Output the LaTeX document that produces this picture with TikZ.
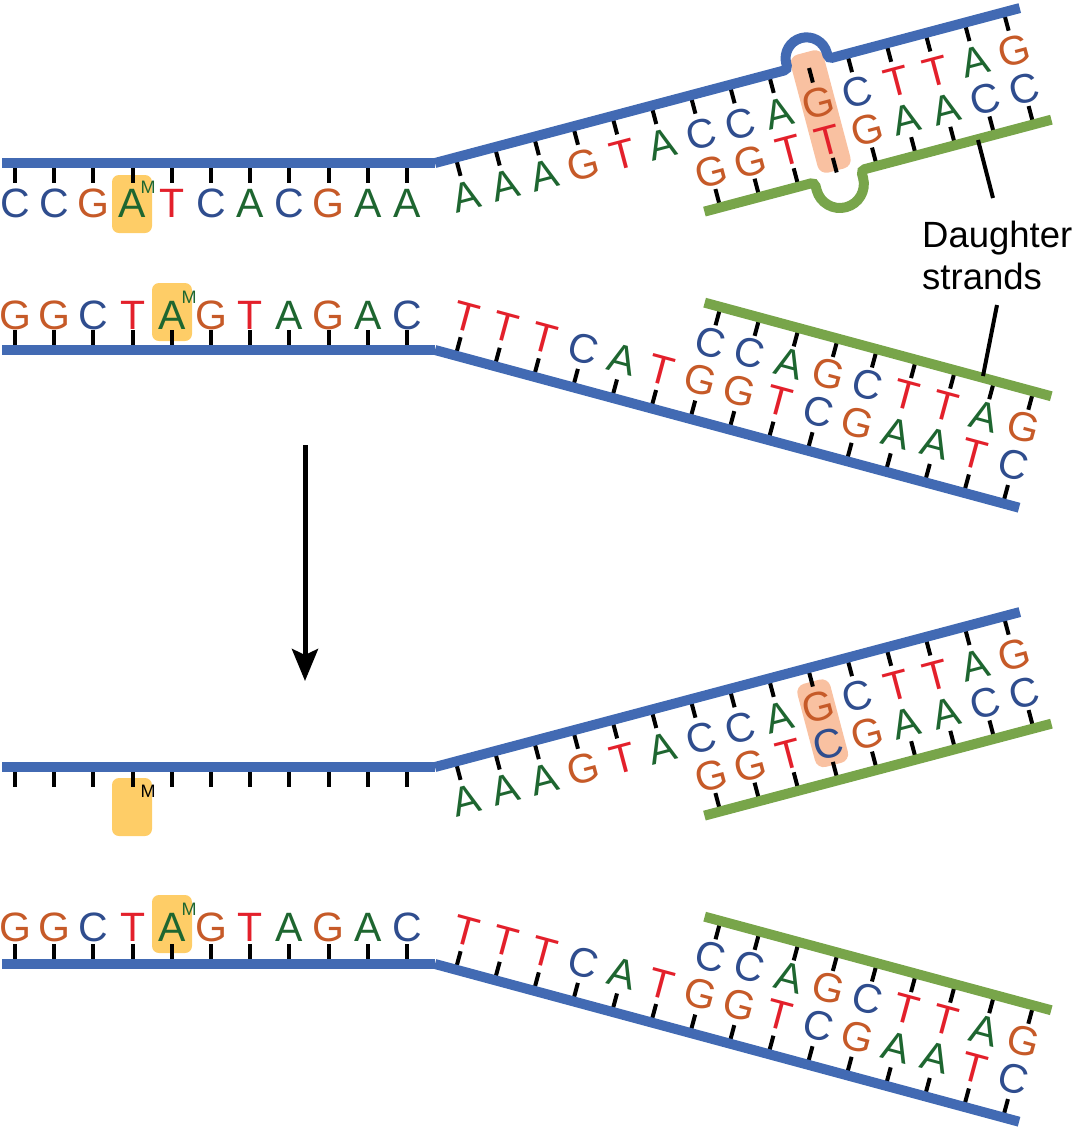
\documentclass[tikz,border=0pt]{standalone}
\usepackage{fontspec}
\setmainfont{Liberation Sans}
\usetikzlibrary{arrows.meta}
\definecolor{strandblue}{HTML}{426AB3}
\definecolor{strandgreen}{HTML}{78A54A}
\definecolor{colA}{HTML}{1E6630}
\definecolor{colC}{HTML}{2F4D8E}
\definecolor{colG}{HTML}{C65A28}
\definecolor{colT}{HTML}{E3202B}
\definecolor{methyl}{HTML}{FECD67}
\definecolor{mismatch}{HTML}{F9C1A1}
\tikzset{
  base/.style={text=col#1, inner sep=0pt, font=\fontsize{41}{41}\selectfont, anchor=center},
  mlabel/.style={inner sep=0pt, font=\fontsize{18}{18}\selectfont, anchor=center},
  tickline/.style={line width=4pt},
  bluestrand/.style={draw=strandblue, line width=10pt},
  greenstrand/.style={draw=strandgreen, line width=10pt},
  methylbox/.style={fill=methyl, rounded corners=7pt},
  mismatchbox/.style={fill=mismatch, rounded corners=9pt},
  pointer/.style={line width=4pt}
}
\begin{document}
\begin{tikzpicture}[x=1pt,y=-1pt]
\useasboundingbox (0,0) rectangle (1077,1128);

% ================= TOP HALF =================
\fill[methylbox] (112,175) rectangle (152,233);
\foreach \l [count=\i from 0] in {C,C,G,A,T,C,A,C,G,A,A}{
  \draw[tickline] ({15+39.2*\i},168) -- ++(0,15);
  \node[base=\l] (ta\i) at ({15+39.2*\i},203) {\l};
}
\node[mlabel, text=colA] (tm1) at (148,187) {M};
\coordinate (ul1) at (2,163);
\coordinate (ur1) at (435,163);
\draw[bluestrand] (ul1) -- (ur1);
\begin{scope}[shift={(435,163)}, rotate=14.84, transform shape]
  \fill[mismatchbox] (369,-12) rectangle (403,110);
  \foreach \l [count=\i from 0] in {A,A,A,G,T,A,C,C,A,G,C,T,T,A,G}{
    \draw[tickline] ({21.4+40.5*\i},4) -- ++(0,15);
    \node[base=\l] (tb\i) at ({21.4+40.5*\i},40) {\l};
  }
  \foreach \l [count=\i from 6] in {G,G,T,T,G,A,A,C,C}{
    \draw[tickline] ({21.4+40.5*\i},112) -- ++(0,-15);
    \node[base=\l] (tc\i) at ({21.4+40.5*\i},79) {\l};
  }
  \coordinate (us1) at (0,0);
  \coordinate (ue1) at (605,0);
  \draw[bluestrand] (us1) -- (361,0) arc[start angle=90, end angle=0, radius=4] -- (365,-6)
     arc[start angle=180, end angle=360, radius=21] -- (407,-4) arc[start angle=180, end angle=90, radius=4] -- (ue1);
  \coordinate (gs1) at (248,116);
  \coordinate (ge1) at (607,116);
  \draw[greenstrand] (gs1) -- (358,116) arc[start angle=270, end angle=360, radius=4] -- (362,124)
     arc[start angle=180, end angle=0, radius=24] -- (410,120) arc[start angle=180, end angle=270, radius=4] -- (ge1);
\end{scope}

\fill[methylbox] (152,283) rectangle (192,341);
\foreach \l [count=\i from 0] in {G,G,C,T,A,G,T,A,G,A,C}{
  \draw[tickline] ({15+39.2*\i},330) -- ++(0,15);
  \node[base=\l] (la\i) at ({15+39.2*\i},315) {\l};
}
\node[mlabel, text=colA] (lm1) at (189,297) {M};
\coordinate (ll1) at (2,350);
\coordinate (lr1) at (435,350);
\draw[bluestrand] (ll1) -- (lr1);
\begin{scope}[shift={(435,350)}, rotate=-15.11, transform shape]
  \foreach \l [count=\i from 0] in {T,T,T,C,A,T,G,G,T,C,G,A,A,T,C}{
    \draw[tickline] ({21.4+40.5*\i},-4) -- ++(0,-15);
    \node[base=\l] (lb\i) at ({21.4+40.5*\i},-40) {\l};
  }
  \foreach \l [count=\i from 6] in {C,C,A,G,C,T,T,A,G}{
    \draw[tickline] ({21.4+40.5*\i},-112) -- ++(0,15);
    \node[base=\l] (lc\i) at ({21.4+40.5*\i},-79) {\l};
  }
  \draw[bluestrand] (0,0) -- (605,0);
  \draw[greenstrand] (248,-116) -- (607,-116);
\end{scope}

\node[inner sep=0pt, anchor=west, align=left, font=\fontsize{36.5}{42}\selectfont] (lbl) at (922,255) {Daughter\\strands};
\coordinate (p1a) at (978,140);
\coordinate (p1b) at (993,198);
\coordinate (p2a) at (997,305);
\coordinate (p2b) at (983,376);
\draw[pointer] (p1a) -- (p1b);
\draw[pointer] (p2a) -- (p2b);

\coordinate (arA) at (305,445);
\coordinate (arB) at (305,681);
\draw[line width=5pt, -{Stealth[length=32pt, width=26pt, inset=6pt]}] (arA) -- (arB);

% ================= BOTTOM HALF =================
\fill[methylbox] (112,778) rectangle (152,836);
\foreach \i in {0,...,10}{
  \draw[tickline] ({15+39.2*\i},772) -- ++(0,15);
}
\node[mlabel, text=black] (bm0) at (148,791) {M};
\coordinate (ul2) at (2,767);
\coordinate (ur2) at (435,767);
\draw[bluestrand] (ul2) -- (ur2);
\begin{scope}[shift={(435,767)}, rotate=14.84, transform shape]
  \fill[mismatchbox] (369,14) rectangle (403,100);
  \foreach \l [count=\i from 0] in {A,A,A,G,T,A,C,C,A,G,C,T,T,A,G}{
    \draw[tickline] ({21.4+40.5*\i},4) -- ++(0,15);
    \node[base=\l] (bb\i) at ({21.4+40.5*\i},40) {\l};
  }
  \foreach \l [count=\i from 6] in {G,G,T,C,G,A,A,C,C}{
    \draw[tickline] ({21.4+40.5*\i},112) -- ++(0,-15);
    \node[base=\l] (bc\i) at ({21.4+40.5*\i},79) {\l};
  }
  \draw[bluestrand] (0,0) -- (605,0);
  \draw[greenstrand] (248,116) -- (607,116);
\end{scope}

\fill[methylbox] (152,895) rectangle (192,953);
\foreach \l [count=\i from 0] in {G,G,C,T,A,G,T,A,G,A,C}{
  \draw[tickline] ({15+39.2*\i},944) -- ++(0,15);
  \node[base=\l] (ma\i) at ({15+39.2*\i},927) {\l};
}
\node[mlabel, text=colA] (mm1) at (189,909) {M};
\coordinate (ll2) at (2,964);
\coordinate (lr2) at (435,964);
\draw[bluestrand] (ll2) -- (lr2);
\begin{scope}[shift={(435,964)}, rotate=-15.11, transform shape]
  \foreach \l [count=\i from 0] in {T,T,T,C,A,T,G,G,T,C,G,A,A,T,C}{
    \draw[tickline] ({21.4+40.5*\i},-4) -- ++(0,-15);
    \node[base=\l] (mb\i) at ({21.4+40.5*\i},-40) {\l};
  }
  \foreach \l [count=\i from 6] in {C,C,A,G,C,T,T,A,G}{
    \draw[tickline] ({21.4+40.5*\i},-112) -- ++(0,15);
    \node[base=\l] (mc\i) at ({21.4+40.5*\i},-79) {\l};
  }
  \draw[bluestrand] (0,0) -- (605,0);
  \draw[greenstrand] (248,-116) -- (607,-116);
\end{scope}
\end{tikzpicture}
\end{document}
